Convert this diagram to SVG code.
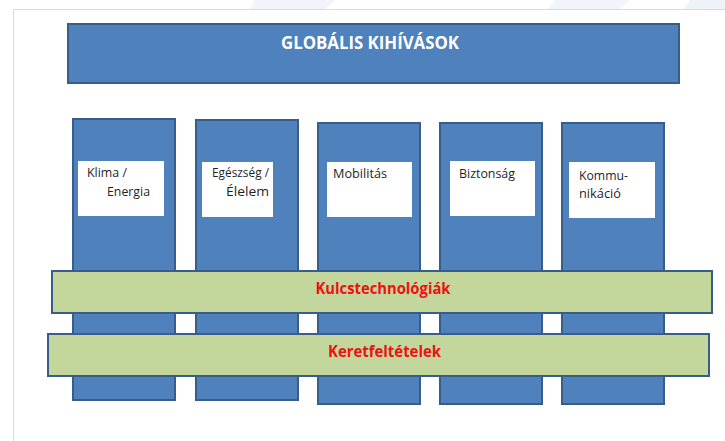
<svg xmlns="http://www.w3.org/2000/svg" width="725" height="441" viewBox="0 0 725 441">
<style>
  .blue{fill:#4F81BD;stroke:#385D8A;stroke-width:2}
  .green{fill:#C3D69B;stroke:#385D8A;stroke-width:2}
  .box{fill:#FFFFFF}
  .lbl{font-family:"Open Sans","Liberation Sans",Arial,sans-serif;font-size:12px;fill:#1F1F1F}
  .title{font-family:"Open Sans","Liberation Sans",Arial,sans-serif;font-size:17px;font-weight:bold;fill:#FFFFFF}
  .bar{font-family:"Open Sans","Liberation Sans",Arial,sans-serif;font-size:15.5px;font-weight:bold;fill:#EE1111}
</style>
<rect x="0" y="0" width="725" height="441" fill="#FFFFFF"/>
<g id="background">
  <polygon points="255,0 335,0 325,9 250,9" fill="#F1F5FB"/>
  <polygon points="555,0 630,0 620,9 548,9" fill="#F1F5FB"/>
  <polygon points="690,0 725,0 725,9 684,9" fill="#EEF3FA"/>
  <path d="M13.5,441 V9.5 H725" fill="none" stroke="#DADADA" stroke-width="1"/>
</g>
<g id="globalis">
  <rect class="blue" x="68" y="24" width="611" height="59"/>
  <text class="title" x="370" y="49" text-anchor="middle" textLength="178" lengthAdjust="spacingAndGlyphs">GLOBÁLIS KIHÍVÁSOK</text>
</g>
<g id="klima">
  <rect class="blue" x="73" y="119" width="102" height="281"/>
  <rect class="box" x="78" y="161" width="86" height="55"/>
  <text class="lbl" x="87" y="177" textLength="40" lengthAdjust="spacingAndGlyphs">Klima /</text>
  <text class="lbl" x="107" y="196" textLength="43" lengthAdjust="spacingAndGlyphs">Energia</text>
</g>
<g id="egeszseg">
  <rect class="blue" x="196" y="120" width="102" height="280"/>
  <rect class="box" x="202" y="162" width="71" height="55"/>
  <text class="lbl" x="212" y="177" textLength="57" lengthAdjust="spacingAndGlyphs">Egészség /</text>
  <text class="lbl" x="226" y="196" textLength="43" lengthAdjust="spacingAndGlyphs">Élelem</text>
</g>
<g id="mobilitas">
  <rect class="blue" x="318" y="123" width="102" height="281"/>
  <rect class="box" x="327" y="162" width="85" height="55"/>
  <text class="lbl" x="333" y="178" textLength="54" lengthAdjust="spacingAndGlyphs">Mobilitás</text>
</g>
<g id="biztonsag">
  <rect class="blue" x="440" y="123" width="102" height="281"/>
  <rect class="box" x="450" y="161" width="85" height="55"/>
  <text class="lbl" x="459" y="178" textLength="56" lengthAdjust="spacingAndGlyphs">Biztonság</text>
</g>
<g id="kommunikacio">
  <rect class="blue" x="562" y="123" width="102" height="281"/>
  <rect class="box" x="569" y="162" width="86" height="56"/>
  <text class="lbl" x="579" y="180" textLength="49" lengthAdjust="spacingAndGlyphs">Kommu-</text>
  <text class="lbl" x="579" y="198" textLength="42" lengthAdjust="spacingAndGlyphs">nikáció</text>
</g>
<g id="kulcstechnologiak">
  <rect class="green" x="52" y="271" width="660" height="42"/>
  <text class="bar" x="383" y="294" text-anchor="middle" textLength="135" lengthAdjust="spacingAndGlyphs">Kulcstechnológiák</text>
</g>
<g id="keretfeltetelek">
  <rect class="green" x="48" y="334" width="661" height="42"/>
  <text class="bar" x="384.5" y="357" text-anchor="middle" textLength="113" lengthAdjust="spacingAndGlyphs">Keretfeltételek</text>
</g>
<g id="connectors"/>
</svg>
